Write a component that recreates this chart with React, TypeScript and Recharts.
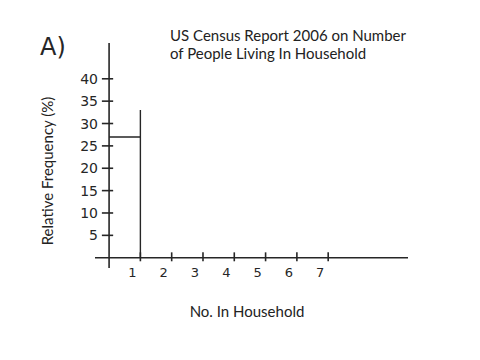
import {
  ComposedChart,
  Line,
  XAxis,
  YAxis,
  ReferenceLine,
} from 'recharts'

/** household size categories (x axis) */
const householdSizes = [1, 2, 3, 4, 5, 6, 7]
/** bars finished so far (relative frequency, %) */
const finishedBars = [27]
/** left edge of the bar being drawn (%) */
const barInProgress = 33
/** y tick labels */
const frequencyTicks = [5, 10, 15, 20, 25, 30, 35, 40]

const ink = '#262626'

// outline of the histogram as it has been drawn: tops + right edges, then the next left edge
const outline: { x: number; y: number }[] = []
finishedBars.forEach((v, i) => {
  outline.push({ x: i, y: v }, { x: i + 1, y: v }, { x: i + 1, y: 0 })
})
outline.push({ x: finishedBars.length, y: barInProgress })

const hand = '"DejaVu Sans", sans-serif'
const print = 'Lato, "Open Sans", sans-serif'

function XTick(props: any) {
  const { x, y, payload } = props
  return (
    <text x={x - 8} y={y + 9} textAnchor="middle" fontFamily={hand} fontSize={13} fill={ink}>
      {payload.value}
    </text>
  )
}

function YTick(props: any) {
  const { x, y, payload } = props
  return (
    <text x={x + 3} y={y + 5} textAnchor="end" fontFamily={hand} fontSize={14} fill={ink}>
      {payload.value}
    </text>
  )
}

export default function App() {
  return (
    <div style={{ position: 'absolute', left: 0, top: 0, width: 480, height: 360, background: '#fff' }}>
      <ComposedChart
        width={480}
        height={360}
        data={outline}
        margin={{ top: 43, right: 72, bottom: 62, left: 35 }}
      >
        <XAxis
          type="number"
          dataKey="x"
          domain={[-0.45, 9.55]}
          ticks={householdSizes}
          interval={0}
          axisLine={false}
          tickLine={false}
          tickSize={0}
          tickMargin={0}
          height={30}
          tick={<XTick />}
        />
        <YAxis
          type="number"
          domain={[-2.3, 48]}
          ticks={frequencyTicks}
          interval={0}
          axisLine={false}
          tickLine={false}
          tickSize={0}
          tickMargin={0}
          width={60}
          tick={<YTick />}
        />
        <ReferenceLine x={0} stroke={ink} strokeWidth={1.6} />
        <ReferenceLine y={0} stroke={ink} strokeWidth={1.6} />
        {householdSizes.map((k) => (
          <ReferenceLine
            key={`xt-${k}`}
            segment={[{ x: k, y: -0.8 }, { x: k, y: 1.2 }]}
            stroke={ink}
            strokeWidth={1.6}
          />
        ))}
        {frequencyTicks.map((v) => (
          <ReferenceLine
            key={`yt-${v}`}
            segment={[{ x: -0.23, y: v }, { x: 0.13, y: v }]}
            stroke={ink}
            strokeWidth={1.6}
          />
        ))}
        <Line
          type="linear"
          dataKey="y"
          stroke={ink}
          strokeWidth={1.4}
          dot={false}
          activeDot={false}
          isAnimationActive={false}
        />
      </ComposedChart>

      <div style={{ position: 'absolute', left: 40, top: 33, fontFamily: hand, fontSize: 24, color: ink }}>
        A)
      </div>
      <div
        style={{
          position: 'absolute',
          left: 170,
          top: 26,
          fontFamily: print,
          fontSize: 15,
          lineHeight: '18px',
          color: '#222',
          whiteSpace: 'nowrap',
        }}
      >
        US Census Report 2006 on Number
        <br />
        of People Living In Household
      </div>
      <div
        style={{
          position: 'absolute',
          left: 47,
          top: 171,
          transform: 'translate(-50%, -50%) rotate(-90deg)',
          fontFamily: print,
          fontSize: 15,
          color: '#222',
          whiteSpace: 'nowrap',
        }}
      >
        Relative Frequency (%)
      </div>
      <div
        style={{
          position: 'absolute',
          left: 247,
          top: 311,
          transform: 'translate(-50%, -50%)',
          fontFamily: print,
          fontSize: 15,
          color: '#222',
          whiteSpace: 'nowrap',
        }}
      >
        No. In Household
      </div>
    </div>
  )
}
